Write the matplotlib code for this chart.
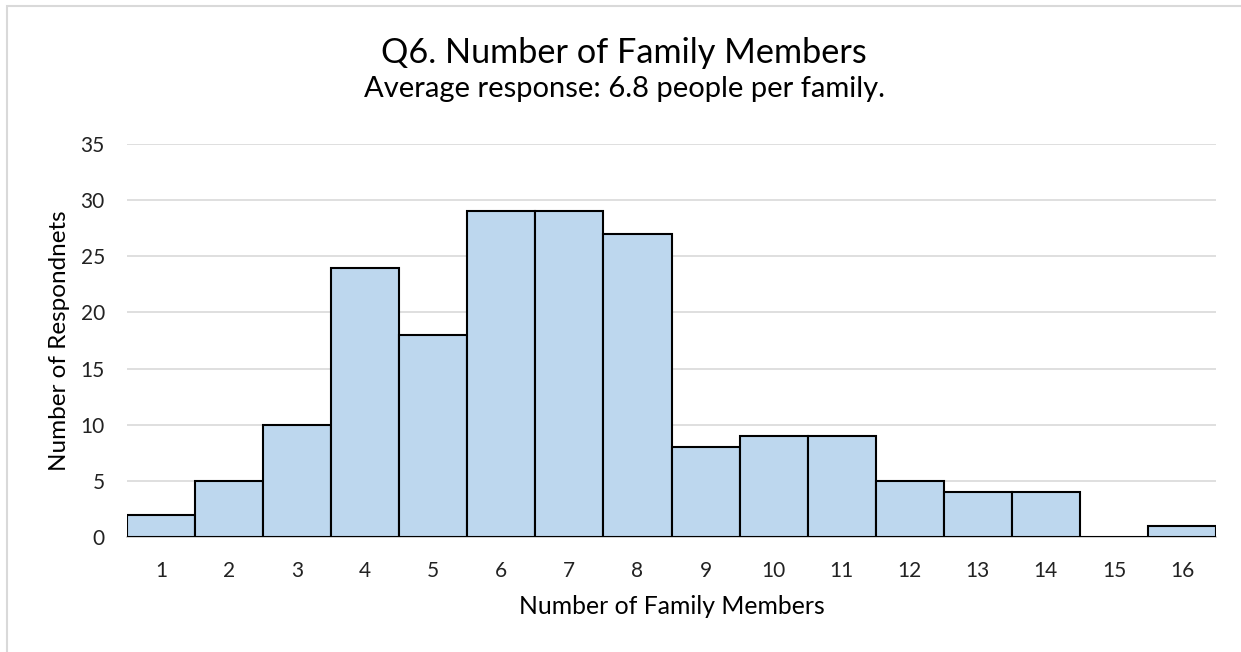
import matplotlib.pyplot as plt
from matplotlib.patches import Rectangle

members = list(range(1, 17))
respondents = [2, 5, 10, 24, 18, 29, 29, 27, 8, 9, 9, 5, 4, 4, 0, 1]
y_ticks = [0, 5, 10, 15, 20, 25, 30, 35]

plt.rcParams['font.family'] = ['Lato', 'DejaVu Sans']

fig = plt.figure(figsize=(12.41, 6.52), dpi=100)
ax = fig.add_axes([127 / 1241, 1 - 537 / 652, (1216 - 127) / 1241, (537 - 144) / 652])

ax.bar(members, respondents, width=1.0, color='#BDD7EE', edgecolor='black',
       linewidth=1.5, zorder=3)

ax.set_xlim(0.5, 16.5)
ax.set_ylim(0, 35)
ax.set_yticks(y_ticks)
ax.set_xticks(members)
ax.tick_params(axis='both', length=0, labelsize=15, colors='#222222')
ax.tick_params(axis='y', pad=16)
ax.tick_params(axis='x', pad=17)
ax.grid(axis='y', color='#d9d9d9', linewidth=1.2, zorder=0)
for side in ['top', 'right', 'left']:
    ax.spines[side].set_visible(False)
ax.spines['bottom'].set_color('#c8c8c8')
ax.spines['bottom'].set_linewidth(1.2)

ax.set_xlabel('Number of Family Members', fontsize=17.8)
ax.set_ylabel('Number of Respondnets', fontsize=17.5)
ax.xaxis.set_label_coords(0.5, -(607 - 537) / (537 - 144))
ax.yaxis.set_label_coords(-(127 - 59) / (1216 - 127), 0.5)
ax.xaxis.label.set_va('center')
ax.yaxis.label.set_va('center')

fig.text(624 / 1241, 1 - 63 / 652, 'Q6. Number of Family Members', ha='center',
         va='baseline', fontsize=24.7)
fig.text(624 / 1241, 1 - 97 / 652, 'Average response: 6.8 people per family.',
         ha='center', va='baseline', fontsize=21)

# light chart border like the Excel chart area
fig.add_artist(Rectangle((7 / 1241, -0.01), 1.02, 1 - 6 / 652 + 0.01,
                         transform=fig.transFigure, fill=False,
                         edgecolor='#d9d9d9', linewidth=1.5))

fig.savefig('out.png', dpi=100)
